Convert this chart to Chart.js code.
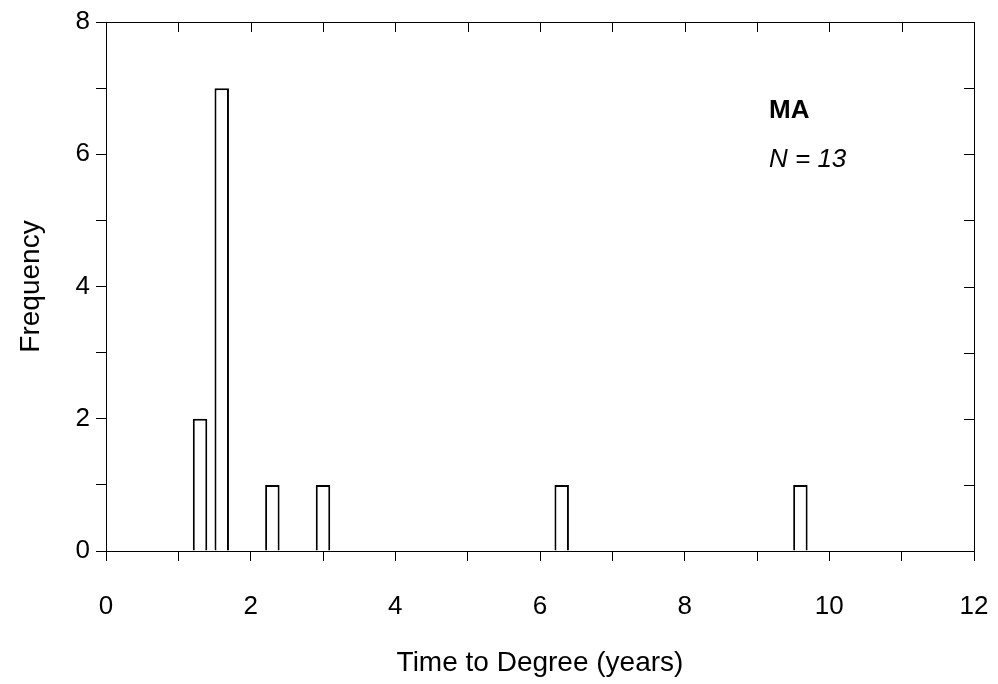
<!DOCTYPE html>
<html><head><meta charset="utf-8">
<script src="https://cdn.jsdelivr.net/npm/chart.js@4"></script>
<style>html,body{margin:0;padding:0;background:#fff}#w{width:998px;height:684px}</style>
</head><body><div id="w"><canvas id="c"></canvas></div>
<script>
const binCenters = [1.3, 1.6, 2.3, 3.0, 6.3, 9.6];
const frequencies = [2, 7, 1, 1, 1, 1];
const xTicks = [0, 2, 4, 6, 8, 10, 12];
const yTicks = [0, 2, 4, 6, 8];
const FONT = "'Liberation Sans', Arial, sans-serif";

const framePlugin = {
  id: 'frame',
  afterDraw(chart) {
    const {ctx, chartArea: a, scales: {x, y}} = chart;
    ctx.save();
    ctx.strokeStyle = '#000'; ctx.lineWidth = 1;
    ctx.strokeRect(a.left + 0.5, a.top + 0.5, a.right - a.left, a.bottom - a.top);
    ctx.beginPath();
    for (let v = 0; v <= 12; v++) {
      const px = Math.round(x.getPixelForValue(v)) + 0.5;
      ctx.moveTo(px, a.top); ctx.lineTo(px, a.top + 10);
    }
    for (let v = 0; v <= 8; v++) {
      const py = Math.round(y.getPixelForValue(v)) + 0.5;
      ctx.moveTo(a.right, py); ctx.lineTo(a.right - 10, py);
    }
    ctx.stroke();
    ctx.fillStyle = '#000';
    ctx.textAlign = 'left'; ctx.textBaseline = 'middle';
    ctx.font = 'bold 26px ' + FONT;
    ctx.fillText('MA', 769, 111);
    ctx.font = 'italic 26px ' + FONT;
    ctx.fillText('N = 13', 769, 160);
    ctx.restore();
  }
};

new Chart(document.getElementById('c'), {
  type: 'bar',
  data: { datasets: [{
    data: binCenters.map((c, i) => ({x: c, y: frequencies[i]})),
    backgroundColor: '#fff', borderColor: '#000', borderWidth: 2,
    categoryPercentage: 1, barPercentage: 0.667
  }]},
  options: {
    responsive: true, maintainAspectRatio: false, animation: false,
    layout: { padding: { top: 22, right: 24, left: 0, bottom: 0 } },
    plugins: { legend: {display: false}, tooltip: {enabled: false} },
    scales: {
      x: {
        type: 'linear', min: 0, max: 12, offset: false,
        afterFit(s) { s.height = 133; s.paddingLeft = 0; s.paddingRight = 0; },
        grid: { offset: false, drawOnChartArea: false, drawTicks: true, tickLength: 10, color: '#000' },
        border: { display: true, color: '#000' },
        ticks: { stepSize: 1, autoSkip: false, maxRotation: 0, color: '#000', font: {family: FONT, size: 26}, padding: 30,
          callback: v => xTicks.includes(v) ? String(v) : '' },
        title: { display: true, text: 'Time to Degree (years)', color: '#000', font: {family: FONT, size: 28}, padding: {top: 0, bottom: 4} }
      },
      y: {
        type: 'linear', min: 0, max: 8,
        afterFit(s) { s.width = 106; s.paddingTop = 0; s.paddingBottom = 0; },
        grid: { drawOnChartArea: false, drawTicks: true, tickLength: 10, color: '#000' },
        border: { display: true, color: '#000' },
        ticks: { stepSize: 1, autoSkip: false, color: '#000', font: {family: FONT, size: 26}, padding: 6,
          callback: v => yTicks.includes(v) ? String(v) : '' },
        title: { display: true, text: 'Frequency', color: '#000', font: {family: FONT, size: 28}, padding: {top: 14, bottom: 0} }
      }
    }
  },
  plugins: [framePlugin]
});
</script></body></html>
